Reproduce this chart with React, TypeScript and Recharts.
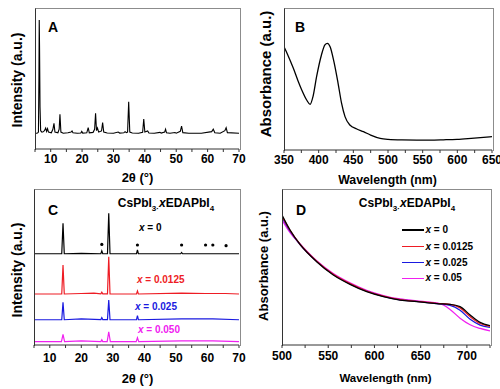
import React from 'react';
import { LineChart, Line, XAxis, YAxis, ReferenceDot } from 'recharts';

const FONT = '"Liberation Sans", Arial, Helvetica, sans-serif';
const AX = '#333333';
const FR = '#8c8c8c';
const RED = '#ee1c24';
const BLUE = '#1a1ae0';
const MAG = '#f020f0';

// ---------- Panel A: XRD (2θ, intensity) ----------
const xrdA = [
  { x: 5, y: 11 }, { x: 5.8, y: 11.3 }, { x: 6.1, y: 12 }, { x: 6.25, y: 50 }, { x: 6.35, y: 91.5 },
  { x: 6.45, y: 72 }, { x: 6.6, y: 30 }, { x: 6.8, y: 13 }, { x: 7.2, y: 12 }, { x: 7.6, y: 12.2 },
  { x: 8.0, y: 13 }, { x: 8.4, y: 14.8 }, { x: 8.7, y: 12.5 }, { x: 9.0, y: 14.5 }, { x: 9.3, y: 12 },
  { x: 10.2, y: 11.5 }, { x: 10.7, y: 14 }, { x: 11.05, y: 18.2 }, { x: 11.35, y: 12 }, { x: 12.3, y: 11.5 },
  { x: 12.7, y: 14 }, { x: 12.95, y: 24.6 }, { x: 13.25, y: 12 }, { x: 14, y: 11.2 }, { x: 15.5, y: 11.5 },
  { x: 16.5, y: 12 }, { x: 16.8, y: 12.8 }, { x: 17.1, y: 11.5 }, { x: 18.5, y: 11.2 }, { x: 19.6, y: 11.3 },
  { x: 19.9, y: 12.5 }, { x: 20.2, y: 11.3 }, { x: 21.5, y: 11.5 }, { x: 21.95, y: 15.1 }, { x: 22.3, y: 11.5 },
  { x: 23.5, y: 11.8 }, { x: 24.0, y: 14 }, { x: 24.3, y: 25.3 }, { x: 24.6, y: 13 }, { x: 24.9, y: 14.9 },
  { x: 25.3, y: 12 }, { x: 26.2, y: 12.8 }, { x: 26.55, y: 18.7 }, { x: 26.9, y: 12 }, { x: 28, y: 11.3 },
  { x: 30, y: 11.2 }, { x: 31.5, y: 12 }, { x: 32, y: 11.3 }, { x: 33.3, y: 11.5 }, { x: 33.7, y: 12.3 },
  { x: 34.1, y: 11.6 }, { x: 34.5, y: 12 }, { x: 34.85, y: 33.5 }, { x: 35.2, y: 12 }, { x: 36, y: 11.3 },
  { x: 38, y: 11.2 }, { x: 39.3, y: 11.8 }, { x: 39.65, y: 21.3 }, { x: 40.0, y: 12 }, { x: 40.9, y: 12.8 },
  { x: 41.3, y: 11.4 }, { x: 43, y: 11.2 }, { x: 44.8, y: 11.8 }, { x: 45.2, y: 11.3 }, { x: 46.3, y: 12 },
  { x: 46.6, y: 14 }, { x: 46.9, y: 11.5 }, { x: 48, y: 11.2 }, { x: 49.6, y: 11.7 }, { x: 50, y: 11.2 },
  { x: 51.3, y: 12.5 }, { x: 51.7, y: 16.3 }, { x: 52.1, y: 11.6 }, { x: 54, y: 11.2 }, { x: 58, y: 11.2 },
  { x: 61.3, y: 12.3 }, { x: 61.8, y: 14 }, { x: 62.3, y: 11.5 }, { x: 64, y: 11.2 }, { x: 65.5, y: 13 },
  { x: 65.9, y: 15.1 }, { x: 66.3, y: 11.6 }, { x: 70, y: 11.2 },
];

// ---------- Panel B: absorbance (wavelength, abs) ----------
const absB = [
  { x: 350, y: 72.7 }, { x: 355, y: 67.5 }, { x: 363.5, y: 57.5 }, { x: 370, y: 49 }, { x: 375.6, y: 42.3 },
  { x: 382.7, y: 35.2 }, { x: 387.6, y: 32.2 }, { x: 392, y: 38 }, { x: 397, y: 51.6 }, { x: 404, y: 66.9 },
  { x: 409, y: 74 }, { x: 412.6, y: 75.1 }, { x: 416.5, y: 72.7 }, { x: 422, y: 62.2 }, { x: 428, y: 47 },
  { x: 433, y: 33 }, { x: 438, y: 23.5 }, { x: 445, y: 17.6 }, { x: 455, y: 14.8 }, { x: 464.6, y: 12.9 },
  { x: 475, y: 10.5 }, { x: 488.7, y: 8.2 }, { x: 500, y: 7.5 }, { x: 520, y: 7.1 }, { x: 541.6, y: 7 },
  { x: 560, y: 7 }, { x: 580, y: 7.2 }, { x: 599.5, y: 7.5 }, { x: 620, y: 8.2 }, { x: 650, y: 9.4 },
];

// ---------- Panel C: XRD of CsPbI3·xEDAPbI4, stacked ----------
const xrdC0 = [
  { x: 5, y: 58.5 }, { x: 13.8, y: 58.5 }, { x: 14.2, y: 78 }, { x: 14.6, y: 58.5 }, { x: 20, y: 58.7 },
  { x: 26.2, y: 58.5 }, { x: 26.5, y: 60.3 }, { x: 26.8, y: 58.5 }, { x: 28.3, y: 58.6 }, { x: 28.7, y: 84.4 },
  { x: 29.1, y: 58.6 }, { x: 37.5, y: 58.5 }, { x: 37.8, y: 60.9 }, { x: 38.1, y: 58.5 }, { x: 51.5, y: 58.5 },
  { x: 51.8, y: 59.3 }, { x: 52.1, y: 58.5 }, { x: 70, y: 58.5 },
];
const xrdC1 = [
  { x: 5, y: 32.7 }, { x: 13.8, y: 32.7 }, { x: 14.2, y: 51.3 }, { x: 14.6, y: 32.7 }, { x: 20, y: 33 },
  { x: 24, y: 33.2 }, { x: 26.2, y: 32.8 }, { x: 26.5, y: 33.8 }, { x: 26.8, y: 32.8 }, { x: 28.3, y: 32.8 },
  { x: 28.7, y: 56.6 }, { x: 29.1, y: 32.8 }, { x: 37.5, y: 32.7 }, { x: 37.8, y: 34.6 }, { x: 38.1, y: 32.7 },
  { x: 51.8, y: 33.2 }, { x: 59.4, y: 33 }, { x: 61.7, y: 33 }, { x: 65.7, y: 33 }, { x: 70, y: 32.7 },
];
const xrdC2 = [
  { x: 5, y: 16.2 }, { x: 13.8, y: 16.2 }, { x: 14.2, y: 27.4 }, { x: 14.6, y: 16.2 }, { x: 20, y: 16.8 },
  { x: 26.2, y: 16.3 }, { x: 26.5, y: 17.5 }, { x: 26.8, y: 16.3 }, { x: 28.3, y: 16.3 }, { x: 28.7, y: 28.8 },
  { x: 29.1, y: 16.3 }, { x: 37.5, y: 16.2 }, { x: 37.8, y: 18.8 }, { x: 38.1, y: 16.2 }, { x: 51.8, y: 16.8 },
  { x: 61.7, y: 16.8 }, { x: 70, y: 16.2 },
];
const xrdC3 = [
  { x: 5, y: 2.1 }, { x: 13.7, y: 2.1 }, { x: 14.2, y: 6.8 }, { x: 14.7, y: 2.1 }, { x: 20, y: 2.6 },
  { x: 26.2, y: 2.2 }, { x: 26.5, y: 3.3 }, { x: 26.8, y: 2.2 }, { x: 28.2, y: 2.2 }, { x: 28.7, y: 8.5 },
  { x: 29.2, y: 2.2 }, { x: 37.4, y: 2.1 }, { x: 37.8, y: 4.7 }, { x: 38.2, y: 2.1 }, { x: 51.8, y: 2.6 },
  { x: 61.7, y: 2.6 }, { x: 70, y: 2.1 },
];
const starsC = [
  { x: 26.5, y: 64.5 }, { x: 37.8, y: 64.1 }, { x: 51.8, y: 64.1 }, { x: 59.4, y: 64.1 }, { x: 61.7, y: 64.1 },
  { x: 65.9, y: 63.7 },
];

// ---------- Panel D: absorbance of CsPbI3·xEDAPbI4 ----------
const absD0 = [
  { x: 500, y: 83.3 }, { x: 508.7, y: 73.7 }, { x: 519.5, y: 64.5 }, { x: 537.5, y: 53.4 }, { x: 555.5, y: 44.9 },
  { x: 573.6, y: 38.9 }, { x: 591.6, y: 34.2 }, { x: 609.7, y: 31 }, { x: 627.7, y: 28.8 }, { x: 645.8, y: 27.8 },
  { x: 667.4, y: 26.5 }, { x: 681.8, y: 26.1 }, { x: 692.6, y: 24.6 }, { x: 703.5, y: 19.2 }, { x: 714.3, y: 14.5 },
  { x: 725, y: 12.4 },
];
const absD1 = [
  { x: 500, y: 82.6 }, { x: 508.7, y: 73.5 }, { x: 519.5, y: 64.6 }, { x: 537.5, y: 53.7 }, { x: 555.5, y: 45.3 },
  { x: 573.6, y: 39.3 }, { x: 591.6, y: 34.6 }, { x: 609.7, y: 31.3 }, { x: 627.7, y: 29.1 }, { x: 645.8, y: 28 },
  { x: 667.4, y: 26.7 }, { x: 681.8, y: 26 }, { x: 692.6, y: 23.8 }, { x: 703.5, y: 18.2 }, { x: 714.3, y: 13.8 },
  { x: 725, y: 12 },
];
const absD2 = [
  { x: 500, y: 81.8 }, { x: 508.7, y: 73 }, { x: 519.5, y: 64.4 }, { x: 537.5, y: 53.6 }, { x: 555.5, y: 45.2 },
  { x: 573.6, y: 39.2 }, { x: 591.6, y: 34.5 }, { x: 609.7, y: 31.2 }, { x: 627.7, y: 29 }, { x: 645.8, y: 27.9 },
  { x: 667.4, y: 26.5 }, { x: 681.8, y: 25.4 }, { x: 692.6, y: 22.3 }, { x: 703.5, y: 16.5 }, { x: 714.3, y: 12.8 },
  { x: 725, y: 11.3 },
];
const absD3 = [
  { x: 500, y: 80.1 }, { x: 508.7, y: 72 }, { x: 519.5, y: 64.8 }, { x: 537.5, y: 54 }, { x: 555.5, y: 45.8 },
  { x: 573.6, y: 39.8 }, { x: 591.6, y: 35 }, { x: 609.7, y: 31.7 }, { x: 627.7, y: 29.5 }, { x: 645.8, y: 28.3 },
  { x: 660, y: 27.5 }, { x: 667.4, y: 27 }, { x: 675, y: 25.5 }, { x: 681.8, y: 22.8 }, { x: 692.6, y: 17.2 },
  { x: 703.5, y: 13 }, { x: 714.3, y: 10.6 }, { x: 725, y: 9 },
];

// ---------- ticks ----------
const ticksTheta = [5, 10, 15, 20, 25, 30, 35, 40, 45, 50, 55, 60, 65, 70];
const labelsTheta = [10, 20, 30, 40, 50, 60, 70];
const ticksB = [350, 375, 400, 425, 450, 475, 500, 525, 550, 575, 600, 625, 650];
const labelsB = [350, 400, 450, 500, 550, 600, 650];
const ticksD = [500, 525, 550, 575, 600, 625, 650, 675, 700, 725];
const labelsD = [500, 550, 600, 650, 700];

const legendD = [
  { name: '0', color: '#000000' },
  { name: '0.0125', color: RED },
  { name: '0.025', color: BLUE },
  { name: '0.05', color: MAG },
];
const labelsC = [
  { name: '0', color: '#000000' },
  { name: '0.0125', color: RED },
  { name: '0.025', color: BLUE },
  { name: '0.050', color: MAG },
];

const fmt = (labels: number[]) => (v: number) => (labels.includes(v) ? String(v) : '');

function axes(domain: [number, number], ticks: number[], labels: number[], tickMargin: number) {
  return [
    <XAxis
      key="xb"
      dataKey="x"
      type="number"
      domain={domain}
      ticks={ticks}
      interval={0}
      tickFormatter={fmt(labels)}
      tickSize={3}
      tickMargin={tickMargin}
      height={20}
      allowDataOverflow
      axisLine={{ stroke: AX, strokeWidth: 1 }}
      tickLine={{ stroke: AX }}
      tick={{ fill: '#000', fontSize: 12, fontWeight: 'bold', fontFamily: FONT }}
    />,
    <YAxis key="yl" type="number" domain={[0, 100]} hide allowDataOverflow />,
  ];
}

// plot frame (left dark, top/right grey), drawn over each plot area
function Frame({ l, t, r, b }: { l: number; t: number; r: number; b: number }) {
  return (
    <div
      style={{
        position: 'absolute',
        left: l - 0.5,
        top: t - 0.5,
        width: r - l,
        height: b - t,
        borderLeft: `1px solid ${AX}`,
        borderTop: `1px solid ${FR}`,
        borderRight: `1px solid ${FR}`,
        pointerEvents: 'none',
      }}
    />
  );
}

const txt = (extra: React.CSSProperties): React.CSSProperties => ({
  position: 'absolute',
  fontFamily: FONT,
  fontWeight: 'bold',
  color: '#000',
  whiteSpace: 'nowrap',
  lineHeight: 1,
  ...extra,
});

const centered = (x: number, y: number, size: number, extra: React.CSSProperties = {}) =>
  txt({ left: x, top: y, fontSize: size, transform: 'translate(-50%, -50%)', ...extra });

const rotated = (x: number, y: number, size: number) =>
  txt({ left: x, top: y, fontSize: size, transform: 'translate(-50%, -50%) rotate(-90deg)' });

const subStyle: React.CSSProperties = { fontSize: 8, position: 'relative', top: 4 };

function Formula({ x, y }: { x: number; y: number }) {
  return (
    <div style={centered(x, y, 12)}>
      CsPbI<span style={subStyle}>3</span>
      <span style={subStyle}>·</span>
      <i>x</i>EDAPbI<span style={subStyle}>4</span>
    </div>
  );
}

export default function App() {
  return (
    <div style={{ position: 'absolute', left: 0, top: 0, width: 500, height: 389, background: '#fff', overflow: 'hidden' }}>
      {/* Panel A */}
      <div style={{ position: 'absolute', left: 0, top: 0 }}>
        <LineChart width={250} height={195} margin={{ left: 35, right: 11, top: 8, bottom: 26 }}>
          {axes([5, 70], ticksTheta, labelsTheta, 2)}
          <Line data={xrdA} dataKey="y" type="linear" stroke="#000" strokeWidth={1.1} dot={false} isAnimationActive={false} />
        </LineChart>
      </div>
      {/* Panel B */}
      <div style={{ position: 'absolute', left: 250, top: 0 }}>
        <LineChart width={250} height={195} margin={{ left: 34, right: 8, top: 8, bottom: 25 }}>
          {axes([350, 650], ticksB, labelsB, 2)}
          <Line data={absB} dataKey="y" type="monotone" stroke="#000" strokeWidth={1.3} dot={false} isAnimationActive={false} />
        </LineChart>
      </div>
      {/* Panel C */}
      <div style={{ position: 'absolute', left: 0, top: 180 }}>
        <LineChart width={250} height={209} margin={{ left: 34, right: 11, top: 9, bottom: 24 }}>
          {axes([5, 70], ticksTheta, labelsTheta, 5)}
          <Line data={xrdC3} dataKey="y" type="linear" stroke={MAG} strokeWidth={1.2} dot={false} isAnimationActive={false} />
          <Line data={xrdC2} dataKey="y" type="linear" stroke={BLUE} strokeWidth={1.2} dot={false} isAnimationActive={false} />
          <Line data={xrdC1} dataKey="y" type="linear" stroke={RED} strokeWidth={1.2} dot={false} isAnimationActive={false} />
          <Line data={xrdC0} dataKey="y" type="linear" stroke="#000" strokeWidth={1.2} dot={false} isAnimationActive={false} />
          {starsC.map((s, i) => (
            <ReferenceDot key={i} x={s.x} y={s.y} r={1.6} fill="#000" stroke="none" />
          ))}
        </LineChart>
      </div>
      {/* Panel D */}
      <div style={{ position: 'absolute', left: 250, top: 180 }}>
        <LineChart width={250} height={209} margin={{ left: 32, right: 10, top: 9, bottom: 24 }}>
          {axes([500, 725], ticksD, labelsD, 3)}
          <Line data={absD3} dataKey="y" type="monotone" stroke={MAG} strokeWidth={1.3} dot={false} isAnimationActive={false} />
          <Line data={absD2} dataKey="y" type="monotone" stroke={BLUE} strokeWidth={1.3} dot={false} isAnimationActive={false} />
          <Line data={absD1} dataKey="y" type="monotone" stroke={RED} strokeWidth={1.3} dot={false} isAnimationActive={false} />
          <Line data={absD0} dataKey="y" type="monotone" stroke="#000" strokeWidth={1.3} dot={false} isAnimationActive={false} />
        </LineChart>
      </div>

      {/* Frames */}
      <Frame l={35} t={8} r={239} b={149} />
      <Frame l={284} t={8} r={492} b={150} />
      <Frame l={34} t={189} r={239} b={345} />
      <Frame l={282} t={189} r={490} b={345} />

      {/* Panel letters */}
      <div style={centered(53, 27, 14)}>A</div>
      <div style={centered(300, 27, 14)}>B</div>
      <div style={centered(53, 210, 14)}>C</div>
      <div style={centered(301, 210, 14)}>D</div>

      {/* Axis titles */}
      <div style={centered(137.5, 177, 13)}>2θ (°)</div>
      <div style={centered(387.5, 180, 12.3)}>Wavelength (nm)</div>
      <div style={centered(137.5, 378, 13)}>2θ (°)</div>
      <div style={centered(385.5, 379, 11.5)}>Wavelength (nm)</div>
      <div style={rotated(17, 80, 14)}>Intensity (a.u.)</div>
      <div style={rotated(265, 74, 15)}>Absorbance (a.u.)</div>
      <div style={rotated(17, 270, 14)}>Intensity (a.u.)</div>
      <div style={rotated(263, 266, 13)}>Absorbance (a.u.)</div>

      {/* Formulas */}
      <Formula x={166} y={203} />
      <Formula x={407} y={203} />

      {/* Panel C labels */}
      {labelsC.map((l, i) => (
        <div key={l.name} style={txt({ left: [139, 137, 135, 138][i], top: [228, 280, 307, 330][i], fontSize: 10, color: l.color, transform: 'translateY(-50%)' })}>
          <i>x</i> = {l.name}
        </div>
      ))}

      {/* Panel D legend */}
      {legendD.map((l, i) => {
        const y = [230, 246.5, 262.7, 278.3][i];
        return (
          <React.Fragment key={l.name}>
            <div style={{ position: 'absolute', left: 402, top: y - 0.75, width: 22, height: 1.5, background: l.color }} />
            <div style={txt({ left: 425.5, top: y, fontSize: 10, transform: 'translateY(-50%)' })}>
              <i>x</i> = {l.name}
            </div>
          </React.Fragment>
        );
      })}
    </div>
  );
}
